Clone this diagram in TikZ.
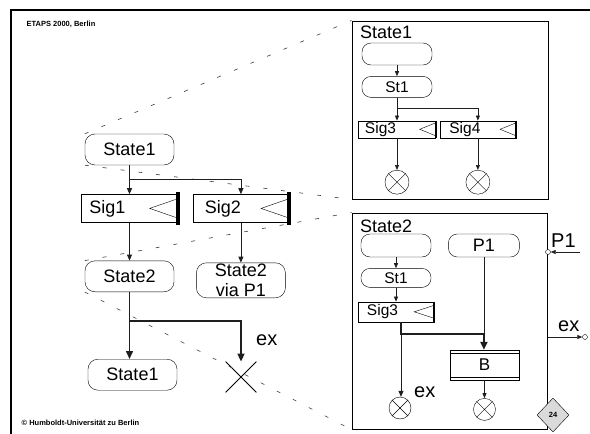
\documentclass[tikz,border=0pt]{standalone}
\usepackage{fontspec}
\setmainfont{Liberation Sans}
\usepackage{tikz}
\usetikzlibrary{arrows.meta,positioning,shapes.geometric,shapes.misc}
\definecolor{ink}{HTML}{000000}
\definecolor{wire}{HTML}{1E1E1E}
\definecolor{zoomgray}{HTML}{3A3A3A}
\definecolor{tagfill}{HTML}{DADADA}
\tikzset{
  state/.style={
    draw=ink, rounded corners=10pt, fill=white,
    minimum width=89pt, minimum height=31pt, inner sep=0pt, align=center,
    font=\fontsize{18}{20}\selectfont
  },
  sigbox/.style={draw=ink, fill=white, minimum width=96pt, minimum height=28pt, inner sep=0pt, font=\fontsize{18}{20}\selectfont},
  rstate/.style={draw=ink, rounded corners=9pt, fill=white, minimum width=70pt, minimum height=22pt, inner sep=0pt, font=\fontsize{15.5}{17}\selectfont},
  rsig/.style={draw=ink, fill=white, minimum width=77pt, minimum height=17pt, inner sep=0pt, font=\fontsize{15.5}{17}\selectfont},
  blockbox/.style={draw=ink, fill=white, minimum width=69pt, minimum height=30pt, inner sep=0pt, font=\fontsize{17}{19}\selectfont},
  panel/.style={draw=ink, line width=1pt},
  paneltitle/.style={font=\fontsize{18}{20}\selectfont, inner sep=0pt, anchor=base west},
  stopmark/.style={draw=ink, cross out, minimum size=30pt, inner sep=0pt, line width=0.8pt},
  endmark/.style={draw=ink, circle, minimum size=24pt, inner sep=0pt},
  port/.style={draw=ink, circle, minimum size=5pt, inner sep=0pt, fill=white},
  exlabel/.style={font=\fontsize{20}{22}\selectfont, inner sep=0pt, anchor=base west},
  footer/.style={font=\fontsize{7.5}{9}\selectfont\bfseries, inner sep=0pt, anchor=west},
  pagetag/.style={draw=ink, diamond, fill=tagfill, minimum width=32pt, minimum height=34pt, inner sep=0pt, font=\fontsize{7.5}{9}\selectfont\bfseries},
  flow/.style={-{Triangle[length=6pt,width=5pt]}, draw=wire, line width=0.8pt},
  heavyflow/.style={-{Triangle[length=8pt,width=7pt]}, draw=wire, line width=1.5pt},
  smallflow/.style={-{Triangle[length=5pt,width=4pt]}, draw=wire, line width=0.7pt},
  bigflow/.style={-{Triangle[length=8pt,width=7pt]}, draw=wire, line width=2pt},
  zoomline/.style={draw=zoomgray, line width=0.6pt, dash pattern=on 4pt off 14pt}
}

\begin{document}
\begin{tikzpicture}[x=1pt,y=-1pt]
  \useasboundingbox (0,0) rectangle (590,434);

  % slide frame and footers
  \draw[line width=2.5pt] (11,434) -- (11,10) -- (590,10);
  \node[footer] (event) at (26.5,24) {ETAPS 2000, Berlin};
  \node[footer] (owner) at (21.5,422.5) {© Humboldt-Universität zu Berlin};

  % Left: flat state machine
  \node[state] (state1a) at (129.5,149.5) {State1};
  \node[sigbox, below=29pt of state1a] (sig1) {Sig1\hspace*{44pt}};
  \node[sigbox, right=15pt of sig1] (sig2) {Sig2\hspace*{36pt}};
  \node[state, below=38pt of sig1] (state2a) {State2};
  \node[state, below=40pt of sig2, minimum height=35pt] (state2b) {State2\\via P1};
  \node[state, below=67pt of state2a, xshift=3pt] (state1b) {State1};
  \node[stopmark] (stop) at (241,377) {};
  \node[exlabel] (exleft) at (256,345) {ex};

  % Right top: refinement of State1
  \node[panel, minimum width=196pt, minimum height=178pt] (panel1) at (450,110) {};
  \node[paneltitle] (title1) at (360,38.5) {State1};
  \node[rstate] (init1) at (397,54) {};
  \node[rstate, below=11pt of init1, minimum height=21pt] (st1a) {St1};
  \node[rsig, below=23pt of st1a] (sig3a) {Sig3\hspace*{33pt}};
  \node[rsig, right=4pt of sig3a, minimum width=76pt] (sig4a) {Sig4\hspace*{26pt}};
  \node[endmark, below=32pt of sig3a] (end1) {};
  \node[endmark, below=32pt of sig4a] (end2) {};

  % Right bottom: refinement of State2
  \node[panel, minimum width=195pt, minimum height=216pt] (panel2) at (449.5,321) {};
  \node[paneltitle] (title2) at (360,232) {State2};
  \node[rstate, minimum height=23pt] (init2) at (396,245.5) {};
  \node[rstate, right=17pt of init2, minimum width=71pt, minimum height=23pt, font=\fontsize{18}{20}\selectfont] (p1box) {P1};
  \node[rstate, below=11pt of init2, minimum height=19pt] (st1b) {St1};
  \node[rsig, below=14pt of st1b, minimum width=76pt, minimum height=20pt] (sig3b) {Sig3\hspace*{27pt}};
  \node[blockbox] (block) at (484.5,365) {B};
  \node[endmark, minimum size=22pt] (end3) at (400,408) {};
  \node[endmark, minimum size=22pt, below=18pt of block] (end4) {};
  \node[exlabel] (exin) at (414,397) {ex};
  \node[port] (p1port) at (548,252) {};
  \coordinate (p1src) at (580,252);
  \node[exlabel] (p1lab) at (551,247) {P1};
  \node[port] (export) at (585,337) {};
  \node[exlabel] (exright) at (558,331) {ex};
  \node[pagetag] (page) at (553,415) {24};

  % zoom lines
  \draw[zoomline] (state1a.north west) -- (panel1.north west);
  \draw[zoomline] (state1a.south west) -- (panel1.south west);
  \draw[zoomline] (state2a.north west) -- (panel2.north west);
  \draw[zoomline] (state2a.south west) -- (panel2.south west);

  % signal marks
  \foreach \s in {sig1,sig2}{
    \draw[ink] ([xshift=-2pt,yshift=9pt]\s.east) -- ([xshift=-28pt]\s.east) -- ([xshift=-2pt,yshift=-9pt]\s.east);
    \draw[ink, line width=4pt] ([yshift=2pt]\s.north east) -- ([yshift=-2pt]\s.south east);
  }
  \foreach \s/\w in {sig3a/16,sig4a/16,sig3b/20}{
    \draw[ink] ([yshift=6.5pt]\s.east) -- ([xshift=-\w pt]\s.east) -- ([yshift=-6.5pt]\s.east);
    \draw[ink, line width=2pt] (\s.north east) -- (\s.south east);
  }
  \foreach \n in {end1,end2,end3,end4}
    \draw[ink] (\n.north west) -- (\n.south east) (\n.north east) -- (\n.south west);

  % double bars of the block
  \draw[ink] ([yshift=-3pt]block.north west) -- ([yshift=-3pt]block.north east);
  \draw[ink] ([yshift=3pt]block.south west) -- ([yshift=3pt]block.south east);

  % left connections
  \path (state1a.south) ++(0,14) coordinate (split1);
  \path (state2a.south) ++(0,29) coordinate (split2);
  \draw[flow] (state1a.south) -- (state1a.south |- sig1.north);
  \draw[flow] (split1) -| (sig2.north);
  \draw[flow] (sig1.south) -- (sig1.south |- state2a.north);
  \draw[flow] (sig2.south) -- (sig2.south |- state2b.north);
  \draw[heavyflow] (state2a.south) -- (state2a.south |- state1b.north);
  \draw[heavyflow] (split2) -| (stop.north);

  % panel 1 connections
  \path (st1a.south) ++(0,11) coordinate (split3);
  \draw[smallflow] (init1) -- (st1a);
  \draw[smallflow] (st1a.south) -- (st1a.south |- sig3a.north);
  \draw[smallflow] (split3) -| (sig4a.north);
  \draw[smallflow] (sig3a.south) -- (sig3a.south |- end1.north);
  \draw[smallflow] (sig4a.south) -- (sig4a.south |- end2.north);

  % panel 2 connections
  \path (sig3b.south) ++(5,0) coordinate (tap);
  \path (p1box.south) ++(0,77) coordinate (join);
  \draw[smallflow] (init2) -- (st1b);
  \draw[smallflow] (st1b) -- (sig3b);
  \draw[flow] (tap) -- (tap |- end3.north);
  \draw[wire, line width=0.7pt] (p1box.south) -- (join);
  \draw[wire, line width=2.2pt] (tap) |- (join);
  \draw[bigflow] (join) -- (join |- block.north);
  \draw[smallflow] (block.south) -- (end4.north);
  \draw[smallflow] (p1src) -- (p1port);
  \draw[smallflow] (panel2.east |- export) -- (export);
\end{tikzpicture}
\end{document}
